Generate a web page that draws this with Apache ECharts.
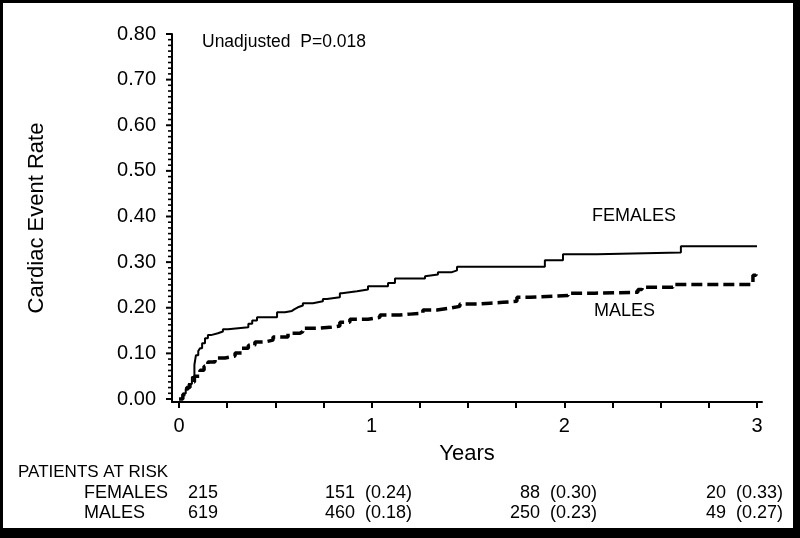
<!DOCTYPE html>
<html>
<head>
<meta charset="utf-8">
<script src="https://cdn.jsdelivr.net/npm/echarts@6/dist/echarts.min.js"></script>
<style>
html,body{margin:0;padding:0;background:#fff;}
#chart{width:800px;height:538px;}
</style>
</head>
<body>
<div id="chart"></div>
<script>
// ---- data ----
const femaleTimes = [0, 0.02, 0.035, 0.05, 0.067, 0.08, 0.088, 0.1, 0.109, 0.12, 0.135, 0.15, 0.166, 0.202, 0.228, 0.254, 0.36, 0.38, 0.405, 0.509, 0.55, 0.586, 0.6, 0.617, 0.643, 0.695, 0.747, 0.768, 0.835, 0.846, 0.924, 0.981, 1.085, 1.121, 1.277, 1.287, 1.344, 1.417, 1.443, 1.899, 1.993, 2.169, 2.605, 3.0];
const femaleRates = [0, 0.012, 0.022, 0.033, 0.048, 0.075, 0.096, 0.105, 0.111, 0.122, 0.133, 0.14, 0.144, 0.148, 0.153, 0.157, 0.165, 0.172, 0.179, 0.19, 0.193, 0.197, 0.201, 0.205, 0.21, 0.214, 0.219, 0.223, 0.232, 0.236, 0.24, 0.247, 0.254, 0.264, 0.269, 0.273, 0.278, 0.282, 0.29, 0.304, 0.317, 0.321, 0.335, 0.335];
const maleTimes = [0, 0.02, 0.04, 0.057, 0.08, 0.109, 0.13, 0.15, 0.187, 0.239, 0.291, 0.327, 0.36, 0.394, 0.446, 0.488, 0.566, 0.628, 0.643, 0.716, 0.784, 0.835, 0.887, 0.981, 1.043, 1.147, 1.199, 1.266, 1.339, 1.406, 1.458, 1.546, 1.614, 1.681, 1.754, 1.821, 2.019, 2.159, 2.382, 2.403, 2.564, 2.979, 2.995];
const maleRates = [0, 0.01, 0.025, 0.037, 0.05, 0.063, 0.072, 0.081, 0.09, 0.094, 0.101, 0.111, 0.118, 0.125, 0.129, 0.136, 0.144, 0.148, 0.155, 0.157, 0.16, 0.168, 0.175, 0.179, 0.184, 0.186, 0.188, 0.195, 0.199, 0.203, 0.208, 0.21, 0.212, 0.214, 0.223, 0.227, 0.232, 0.234, 0.24, 0.245, 0.251, 0.271, 0.278];

const xLabelValues = [0, 1, 2, 3];
const xTickValues = [0, 0.25, 0.5, 0.75, 1, 1.25, 1.5, 1.75, 2, 2.25, 2.5, 2.75, 3];
const yLabelValues = [0, 0.1, 0.2, 0.3, 0.4, 0.5, 0.6, 0.7, 0.8];

const riskGroups = ['FEMALES', 'MALES'];
const riskFemales = ['215', '151  (0.24)', '88  (0.30)', '20  (0.33)'];
const riskMales = ['619', '460  (0.18)', '250  (0.23)', '49  (0.27)'];

// ---- build ----
const FONT = '"Liberation Sans", Arial, Helvetica, sans-serif';
const X_MIN = -0.0363, X_MAX = 3.026, Y_MIN = -0.0066, Y_MAX = 0.8;
const yTickData = [];
for (let i = 0; i <= 64; i++) yTickData.push([+(i * 0.0125).toFixed(4), i % 8 === 0 ? 1 : 0]);
const zip = (a, b) => a.map((t, i) => [t, b[i]]);

const chart = echarts.init(document.getElementById('chart'));

const colRight = [218, 412, 597, 783];
const tableTexts = [];
tableTexts.push({type: 'text', left: 18, top: 464, style: {text: 'PATIENTS AT RISK', font: '17px ' + FONT, fill: '#000'}});
[riskFemales, riskMales].forEach((row, r) => {
  const y = 493 + r * 20;
  tableTexts.push({type: 'text', x: 84, y: y, style: {text: riskGroups[r], font: '18px ' + FONT, fill: '#000', verticalAlign: 'middle'}});
  row.forEach((s, c) => {
    tableTexts.push({type: 'text', x: colRight[c], y: y, style: {text: s, font: '18px ' + FONT, fill: '#000', align: 'right', verticalAlign: 'middle', whiteSpace: 'pre'}});
  });
});

const option = {
  backgroundColor: '#fff',
  animation: false,
  grid: {left: 172, right: 38, top: 34, bottom: 136},
  xAxis: {
    type: 'value',
    min: X_MIN, max: X_MAX,
    name: 'Years', nameLocation: 'middle', nameGap: 41,
    nameTextStyle: {fontFamily: FONT, fontSize: 22, color: '#000'},
    axisLine: {show: true, onZero: false, lineStyle: {color: '#000', width: 2}},
    axisTick: {show: true, customValues: xTickValues, length: 6, lineStyle: {color: '#000', width: 2}},
    axisLabel: {show: true, customValues: xLabelValues, margin: 14, fontFamily: FONT, fontSize: 20, color: '#000', formatter: v => String(Math.round(v))},
    splitLine: {show: false}
  },
  yAxis: {
    type: 'value',
    min: Y_MIN, max: Y_MAX,
    name: 'Cardiac Event Rate', nameLocation: 'middle', nameGap: 124,
    nameTextStyle: {fontFamily: FONT, fontSize: 22, color: '#000'},
    axisLine: {show: true, onZero: false, lineStyle: {color: '#000', width: 2}},
    axisTick: {show: false},
    axisLabel: {show: true, customValues: yLabelValues, margin: 16, fontFamily: FONT, fontSize: 20, color: '#000', formatter: v => v.toFixed(2)},
    splitLine: {show: false}
  },
  series: [{
    name: 'FEMALES', type: 'line', step: 'end', showSymbol: false, symbol: 'none',
    data: zip(femaleTimes, femaleRates),
    lineStyle: {color: '#000', width: 2, type: 'solid'}
  }, {
    name: 'MALES', type: 'line', step: 'end', showSymbol: false, symbol: 'none',
    data: zip(maleTimes, maleRates),
    lineStyle: {color: '#000', width: 3.5, type: [11, 5], cap: 'butt'}
  }, {
    // y-axis major/minor tick marks, positioned through the axis scale
    name: 'yticks', type: 'custom', silent: true, clip: false, z: 10,
    data: yTickData,
    encode: {x: -1, y: 0},
    renderItem: function (params, api) {
      const v = api.value(0);
      const major = api.value(1) === 1;
      const p = api.coord([X_MIN, v]);
      const len = major ? 6 : 4;
      return {
        type: 'line',
        shape: {x1: p[0] - len, y1: p[1], x2: p[0], y2: p[1]},
        style: {stroke: '#000', lineWidth: major ? 2 : 1.6}
      };
    }
  }],
  graphic: [
    {type: 'rect', shape: {x: 0, y: 0, width: 800, height: 3}, style: {fill: '#000'}},
    {type: 'rect', shape: {x: 0, y: 0, width: 3, height: 538}, style: {fill: '#000'}},
    {type: 'rect', shape: {x: 793, y: 0, width: 7, height: 538}, style: {fill: '#000'}},
    {type: 'rect', shape: {x: 0, y: 528, width: 800, height: 10}, style: {fill: '#000'}},
    {type: 'text', x: 202, y: 42, style: {text: 'Unadjusted  P=0.018', font: '17.5px ' + FONT, fill: '#000', verticalAlign: 'middle', whiteSpace: 'pre'}},
    {type: 'text', x: 592, y: 216, style: {text: 'FEMALES', font: '18px ' + FONT, fill: '#000', verticalAlign: 'middle'}},
    {type: 'text', x: 594, y: 311, style: {text: 'MALES', font: '18px ' + FONT, fill: '#000', verticalAlign: 'middle'}}
  ].concat(tableTexts)
};
chart.setOption(option);
</script>
</body>
</html>
